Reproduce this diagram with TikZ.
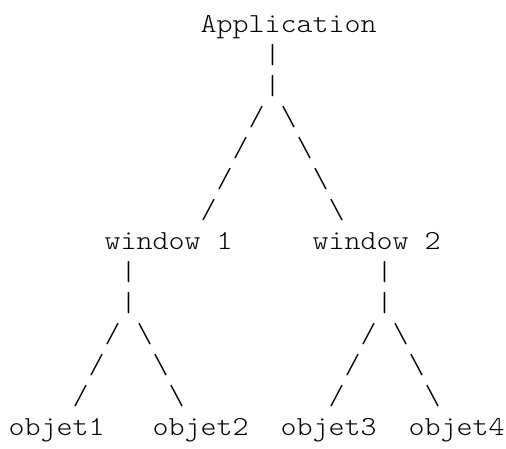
\documentclass[tikz,border=0pt]{standalone}
\usepackage{fontspec}
\setmonofont{Latin Modern Mono Light}[FakeStretch=1.108]
\usepackage{tikz}

\tikzset{
    ascii/.style={inner sep=0pt,anchor=base west,font=\ttfamily\fontsize{27.5}{31}\selectfont}
}

\begin{document}
\begin{tikzpicture}[x=16pt,y=-31pt]
    \useasboundingbox (0,0) rectangle (31.625,14.452);
    \begin{scope}[xshift=8.5pt,yshift=-32pt]
        % Application
        \draw (12,0) node[ascii](app) {Application};
        \foreach \r in {1,2}
            \draw (16,\r) node[ascii](appbar-\r) {\textbar};
        \foreach \r/\a/\b in {3/15/17,4/14/18,5/13/19,6/12/20} {
            \draw (\a,\r) node[ascii](appl-\r) {/};
            \draw (\b,\r) node[ascii](appr-\r) {\textbackslash};
        }
        % Windows
        \draw (6,7) node[ascii](win1) {window 1};
        \draw (19,7) node[ascii](win2) {window 2};
        \foreach \w/\o in {1/0,2/16} {
            \foreach \r in {8,9}
                \draw (7+\o,\r) node[ascii](winbar\w-\r) {\textbar};
            \foreach \r/\a/\b in {10/6/8,11/5/9,12/4/10} {
                \draw (\a+\o,\r) node[ascii](winl\w-\r) {/};
                \draw (\b+\o,\r) node[ascii](winr\w-\r) {\textbackslash};
            }
        }
        % Objets
        \draw (0,13) node[ascii](obj1) {objet1};
        \draw (9,13) node[ascii](obj2) {objet2};
        \draw (17,13) node[ascii](obj3) {objet3};
        \draw (25,13) node[ascii](obj4) {objet4};
    \end{scope}
\end{tikzpicture}
\end{document}
